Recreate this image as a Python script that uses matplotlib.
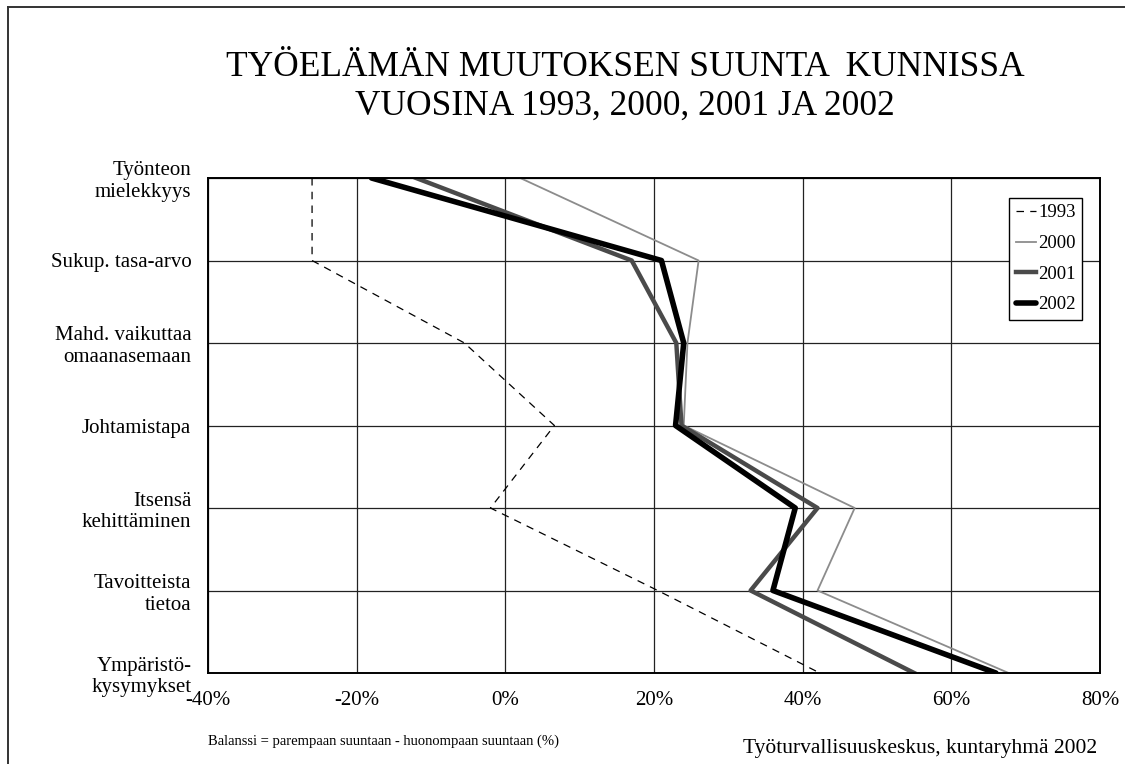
import matplotlib
matplotlib.use("Agg")
import matplotlib.pyplot as plt
from matplotlib.lines import Line2D

plt.rcParams['font.family'] = ['Liberation Serif', 'DejaVu Serif']

categories = ["Työnteon\nmielekkyys", "Sukup. tasa-arvo", "Mahd. vaikuttaa\nomaanasemaan",
              "Johtamistapa", "Itsensä\nkehittäminen", "Tavoitteista\ntietoa",
              "Ympäristö-\nkysymykset"]
v1993 = [-26, -26, -5.5, 6.6, -2, 20.5, 42.3]
v2000 = [2, 26, 24.5, 24, 47, 42, 67.7]
v2001 = [-12, 17, 23, 23.7, 42, 33, 55]
v2002 = [-18, 21, 24, 22.9, 39, 36, 66]
xticks = [-40, -20, 0, 20, 40, 60, 80]

fig = plt.figure(figsize=(11.25, 7.64), dpi=100)
ax = fig.add_axes([208/1125, 1-673/764, (1100-208)/1125, (673-178)/764])

ypos = list(range(len(categories)))
ax.plot(v1993, ypos, color='black', lw=0.9, ls=(0, (6, 5)), label='1993')
ax.plot(v2000, ypos, color='#8c8c8c', lw=1.3, label='2000')
ax.plot(v2001, ypos, color='#4a4a4a', lw=3.2, label='2001')
ax.plot(v2002, ypos, color='black', lw=4.0, label='2002', solid_capstyle='round')

ax.set_xlim(-40, 80)
ax.set_ylim(len(categories)-1, 0)
ax.set_xticks(xticks)
ax.set_xticklabels([f"{t}%" for t in xticks], fontsize=15)
ax.set_yticks(ypos)
ax.set_yticklabels(categories, fontsize=15, ha='right', multialignment='right')
ax.tick_params(axis='both', length=0)
ax.tick_params(axis='x', pad=13)
ax.tick_params(axis='y', pad=12)
ax.grid(True, color='#222222', lw=0.9)
ax.set_axisbelow(True)
for s in ax.spines.values():
    s.set_color('black')
    s.set_linewidth(1.4)

leg = ax.legend(loc='upper right', bbox_to_anchor=(0.980, 0.960), fontsize=13.5,
                handlelength=1.1, handletextpad=0.1, borderpad=0.35,
                labelspacing=0.72, fancybox=False, framealpha=1,
                edgecolor='black', borderaxespad=0)
leg.get_frame().set_linewidth(1.0)

fig.text(625/1125, 1-87/764, "TYÖELÄMÄN MUUTOKSEN SUUNTA  KUNNISSA\nVUOSINA 1993, 2000, 2001 JA 2002",
         ha='center', va='center', fontsize=25.5, linespacing=1.2)
fig.text(208/1125, 1-741/764, "Balanssi = parempaan suuntaan - huonompaan suuntaan (%)",
         ha='left', va='center', fontsize=10.5)
fig.text(1097/1125, 1-748/764, "Työturvallisuuskeskus, kuntaryhmä 2002",
         ha='right', va='center', fontsize=15.5)

fig.add_artist(Line2D([8/1125, 1], [1-7/764, 1-7/764], color='#333333', lw=1.4))
fig.add_artist(Line2D([8/1125, 8/1125], [0, 1-7/764], color='#333333', lw=1.4))

fig.savefig("out.png", dpi=100)
